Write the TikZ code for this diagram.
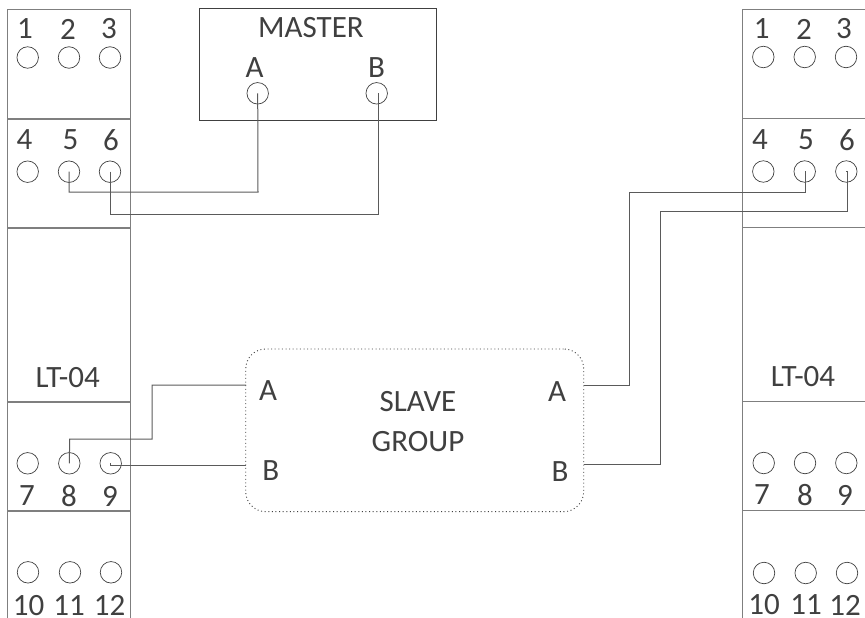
\documentclass[tikz,border=0pt]{standalone}
\usepackage{fontspec}
\setmainfont{Carlito}
\definecolor{panelgray}{HTML}{7F7F7F}
\definecolor{wiregray}{HTML}{5A5A5A}
\definecolor{inkgray}{HTML}{404040}
\tikzset{
  panelline/.style={draw=panelgray,line width=1.3pt},
  termhole/.style={circle,draw=inkgray,line width=0.7pt,minimum size=21.5pt,inner sep=0pt,fill=none},
  wire/.style={draw=wiregray,line width=1pt},
  lbl/.style={inner sep=0pt,text=inkgray,font=\fontsize{31}{37}\selectfont,anchor=center},
  mbox/.style={draw=inkgray,line width=1.1pt,inner sep=0pt,minimum width=236.7pt,minimum height=111.3pt},
  sbox/.style={draw=inkgray,line width=0.9pt,dash pattern=on 1pt off 2.6pt,rounded corners=20pt,inner sep=0pt,minimum width=338pt,minimum height=162.7pt}
}
\begin{document}
\begin{tikzpicture}[x=1pt,y=-1pt]
\useasboundingbox (0,0) rectangle (865,618);
% left rail
\draw[panelline] (7.5,618) -- (7.5,9.5) -- (130.5,9.5) -- (130.5,618);
\foreach \yy in {119,228,402,511} \draw[panelline] (7.5,\yy) -- (130.5,\yy);
% right rail
\draw[panelline] (865,9.5) -- (742.7,9.5) -- (742.7,618);
\foreach \yy in {118.5,227.5,401.7,510.7} \draw[panelline] (742.7,\yy) -- (865,\yy);
% master and slave
\node[mbox] (master) at (317.7,64.4) {};
\node[sbox] (slave) at (414.7,430.3) {};
\coordinate (sal) at (246,385);
\coordinate (sbl) at (246,465);
\coordinate (sar) at (584,385.5);
\coordinate (sbr) at (584,464.7);
% terminals
\foreach \n/\xx/\yy in {l1/27.7/57.5,l2/69/57.5,l3/110/57.5,l4/27.7/171.7,l5/69/171.7,l6/110/171.7,l7/27.7/463.3,l8/69.3/463.3,l9/110.7/463.3,l10/28/572.3,l11/70/572.3,l12/111/572.3,
  r1/763.3/57,r2/804.7/57,r3/846/57,r4/763.3/171.5,r5/804.7/171.5,r6/846.3/171.5,r7/763.7/463,r8/805/463,r9/846.3/463,r10/764/573,r11/805.7/573,r12/847/573,
  ma/257.7/93.3,mb/376.7/93.3}
  \node[termhole] (\n) at (\xx,\yy) {};
% wires
\draw[wire] (l5.center) -- (69,192) -- (258,192) -- (ma.center);
\draw[wire] (l6.center) -- (110,214.7) -- (378,214.7) -- (378,93.3);
\draw[wire] (sal) -- (152,385) -- (152,439) -- (69.7,439) -- (l8.center);
\draw[wire] (l9.center) -- (110.7,465) -- (sbl);
\draw[wire] (sar) -- (629.5,385.5) -- (629.5,192) -- (805.7,192) -- (805.7,171.5) -- (r5.center);
\draw[wire] (sbr) -- (660,464.7) -- (660,211.7) -- (847,211.7) -- (847,171.5) -- (r6.center);
% labels
\foreach \n/\xx/\yy/\tx in {t1/25/29/1,t2/68/29/2,t3/109/29/3,t4/24.5/140/4,t5/70.5/140/5,t6/111/140/6,t7/27/496/7,t8/69/496/8,t9/110/496/9,t10/28.7/605.5/10,t11/69/605.5/11,t12/109.5/605.5/12,
  u1/761.7/29/1,u2/804/29/2,u3/844/29/3,u4/760/140/4,u5/806/140/5,u6/847/140/6,u7/762/495/7,u8/805/495/8,u9/845/495/9,u10/764/605/10,u11/806/605/11,u12/845/605/12,
  m0/311/28/MASTER,ma0/254.5/68/A,mb0/376.5/68/B,lt1/67.7/377.7/LT-04,lt2/803/377/LT-04,
  sa1/268/390.7/A,sb1/270.7/470.7/B,sa2/557/392/A,sb2/560/472/B,s1/418/402/SLAVE,s2/418/442/GROUP}
  \node[lbl] (\n) at (\xx,\yy) {\tx};
\end{tikzpicture}
\end{document}
